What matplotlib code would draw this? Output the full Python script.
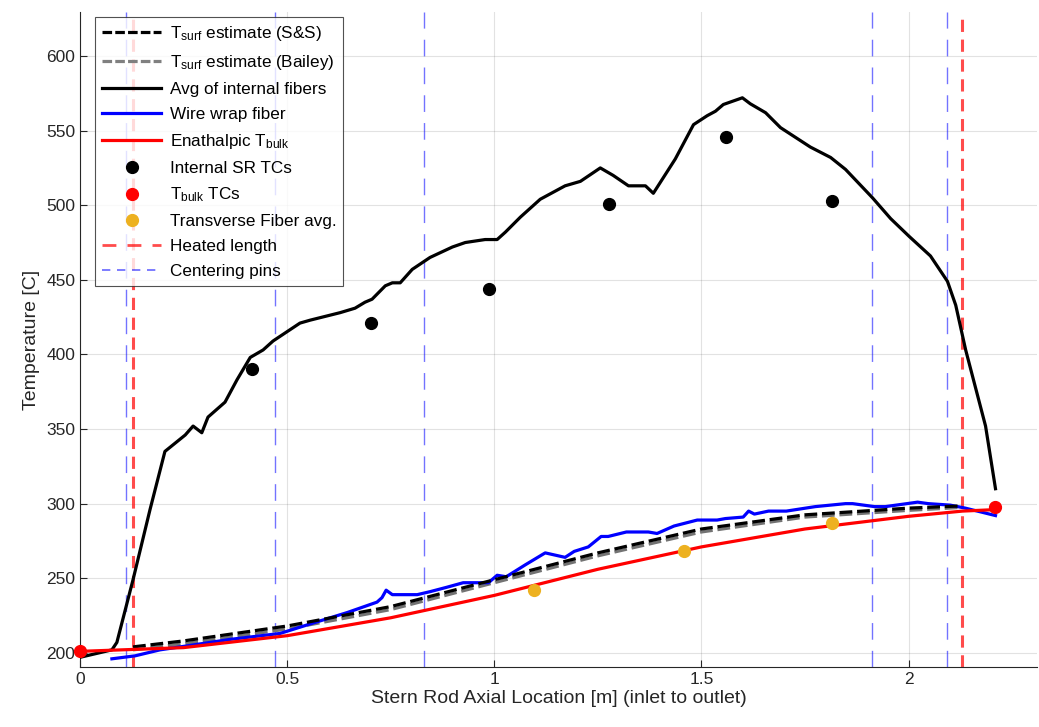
import matplotlib
matplotlib.use("Agg")
import matplotlib.pyplot as plt
from matplotlib.lines import Line2D

plt.rcParams['font.family'] = ['Liberation Sans', 'DejaVu Sans']
plt.rcParams['mathtext.fontset'] = 'custom'
plt.rcParams['mathtext.rm'] = 'Liberation Sans'
plt.rcParams['mathtext.it'] = 'Liberation Sans'

# Average of internal fibers
fib_x = [0.0, 0.077, 0.089, 0.128, 0.169, 0.205, 0.254, 0.273, 0.294, 0.309,
         0.350, 0.379, 0.411, 0.442, 0.466, 0.531, 0.556, 0.628, 0.664, 0.688, 0.705,
         0.737, 0.754, 0.773, 0.802, 0.845, 0.899, 0.930, 0.978, 1.007, 1.027, 1.063,
         1.111, 1.171, 1.208, 1.256, 1.287, 1.324, 1.365, 1.384, 1.437,
         1.481, 1.514, 1.534, 1.553, 1.599, 1.618, 1.655, 1.691, 1.763, 1.812,
         1.848, 1.913, 1.957, 2.002, 2.053, 2.094, 2.114, 2.138, 2.186, 2.210]
fib_y = [197, 202, 207, 249, 296, 335, 346, 352, 347.5, 358,
         368, 383, 398, 403, 409, 421, 423, 428, 431, 435, 437,
         446, 448, 448, 457, 465, 472, 475, 477, 477, 482, 492,
         504, 513, 516, 525, 520, 513, 513, 508, 531,
         554, 560, 563, 567.5, 572, 568, 562, 552, 539, 532,
         524, 505, 491, 479, 466, 449, 433, 403, 352, 310]

# Wire wrap fiber
wire_x = [0.077, 0.133, 0.193, 0.242, 0.362, 0.483, 0.563, 0.645, 0.717, 0.729, 0.739,
          0.754, 0.814, 0.845, 0.886, 0.925, 0.966, 0.986, 1.007, 1.029, 1.075, 1.099,
          1.123, 1.171, 1.193, 1.227, 1.258, 1.275, 1.319, 1.372, 1.393, 1.434, 1.490,
          1.538, 1.558, 1.601, 1.614, 1.628, 1.662, 1.705, 1.775, 1.848, 1.865, 1.918,
          1.944, 2.022, 2.048, 2.101, 2.137, 2.210]
wire_y = [196, 198, 202, 204, 209, 213, 220, 227, 234, 237, 242,
          239, 239, 241, 244, 247, 247, 247, 252, 251, 259, 263,
          267, 264, 268, 271, 278, 278, 281, 281, 280, 285, 289,
          289, 290, 291, 295, 293, 295, 295, 298, 300, 300, 298,
          298, 301, 300, 299, 297, 292]

# Enthalpic bulk temperature
bulk_x = [0.0, 0.25, 0.5, 0.75, 1.0, 1.25, 1.5, 1.75, 2.0, 2.13, 2.21]
bulk_y = [201, 203.5, 211.5, 223.5, 238.5, 256, 271, 283, 291.5, 295, 296]

# Surface temperature estimates
surf_x = [0.128, 0.25, 0.5, 0.75, 1.0, 1.25, 1.5, 1.75, 2.0, 2.13]
surf_ss = [204, 208, 218, 231, 249, 267, 283, 292.5, 297, 298.5]
surf_bailey = [202, 206, 216, 229, 247, 265, 281, 291, 295.5, 297.5]

# Thermocouple and transverse fiber points
tc_x = [0.415, 0.703, 0.988, 1.278, 1.560, 1.816]
tc_y = [390, 421, 444, 501, 546, 503]
bulk_tc_x = [0.0, 2.21]
bulk_tc_y = [201, 298]
trans_x = [1.097, 1.459, 1.816]
trans_y = [242, 268.5, 287]

heated_x = [0.128, 2.130]
pins_x = [0.111, 0.471, 0.831, 1.913, 2.094]

xticks = [0, 0.5, 1, 1.5, 2]
xticklabels = ['0', '0.5', '1', '1.5', '2']
yticks = [200, 250, 300, 350, 400, 450, 500, 550, 600]

fig = plt.figure(figsize=(10.39, 7.27), dpi=100)
ax = fig.add_axes([0.077, 0.0825, 0.921, 0.901])

lw = 2.3
ax.plot(surf_x, surf_bailey, color='0.45', lw=lw, ls=(0, (4, 1.5)), zorder=3)
ax.plot(surf_x, surf_ss, color='black', lw=lw, ls=(0, (4, 1.5)), zorder=3.1)
ax.plot(fib_x, fib_y, color='black', lw=lw, zorder=3)
ax.plot(wire_x, wire_y, color='#0000ff', lw=lw, zorder=3)
ax.plot(bulk_x, bulk_y, color='#ff0000', lw=lw, zorder=3.2)

ax.plot(tc_x, tc_y, 'o', color='black', ms=8.5, zorder=4)
ax.plot(bulk_tc_x, bulk_tc_y, 'o', color='#ff0000', ms=8.5, zorder=4, clip_on=False)
ax.plot(trans_x, trans_y, 'o', color='#EDB120', ms=8.5, zorder=4)

for xv in heated_x:
    ax.axvline(xv, color='#ff0000', alpha=0.7, lw=2.2, ls=(0, (4, 2.5)), zorder=2.5)
for xv in pins_x:
    ax.axvline(xv, color='#0000ff', alpha=0.55, lw=1.0, ls=(0, (12, 8)), zorder=2.5)

ax.set_xlim(0, 2.31)
ax.set_ylim(190.5, 629.5)
ax.set_xticks(xticks)
ax.set_xticklabels(xticklabels)
ax.set_yticks(yticks)
ax.tick_params(direction='in', length=5, width=0.8, labelsize=12.5, colors='#262626')
ax.grid(True, color='#262626', alpha=0.13, lw=0.8)
ax.set_axisbelow(True)
for side in ('top', 'right'):
    ax.spines[side].set_visible(False)
for side in ('left', 'bottom'):
    ax.spines[side].set_color('#262626')
    ax.spines[side].set_linewidth(0.8)

ax.set_xlabel('Stern Rod Axial Location [m] (inlet to outlet)', fontsize=14, color='#262626', labelpad=2)
ax.set_ylabel('Temperature [C]', fontsize=14, color='#262626', labelpad=4)

handles = [
    Line2D([], [], color='black', lw=lw, ls=(0, (3, 1))),
    Line2D([], [], color='0.5', lw=lw, ls=(0, (3, 1))),
    Line2D([], [], color='black', lw=lw),
    Line2D([], [], color='#0000ff', lw=lw),
    Line2D([], [], color='#ff0000', lw=lw),
    Line2D([], [], color='black', marker='o', ls='none', ms=8.5),
    Line2D([], [], color='#ff0000', marker='o', ls='none', ms=8.5),
    Line2D([], [], color='#EDB120', marker='o', ls='none', ms=8.5),
    Line2D([], [], color='#ff0000', alpha=0.7, lw=2.0, ls=(0, (5, 4))),
    Line2D([], [], color='#0000ff', alpha=0.6, lw=1.2, ls=(0, (5, 4))),
]
labels = [
    r'T$_{\mathrm{surf}}$ estimate (S&S)',
    r'T$_{\mathrm{surf}}$ estimate (Bailey)',
    'Avg of internal fibers',
    'Wire wrap fiber',
    r'Enathalpic T$_{\mathrm{bulk}}$',
    'Internal SR TCs',
    r'T$_{\mathrm{bulk}}$ TCs',
    'Transverse Fiber avg.',
    'Heated length',
    'Centering pins',
]
leg = ax.legend(handles, labels, loc='upper left', bbox_to_anchor=(0.0155, 0.992),
                fontsize=12.3, frameon=True, fancybox=False, edgecolor='#262626',
                handlelength=3.5, handletextpad=0.5, labelspacing=0.58,
                borderpad=0.4, borderaxespad=0.0)
leg.get_frame().set_linewidth(0.8)

fig.savefig('out.png', dpi=100)
